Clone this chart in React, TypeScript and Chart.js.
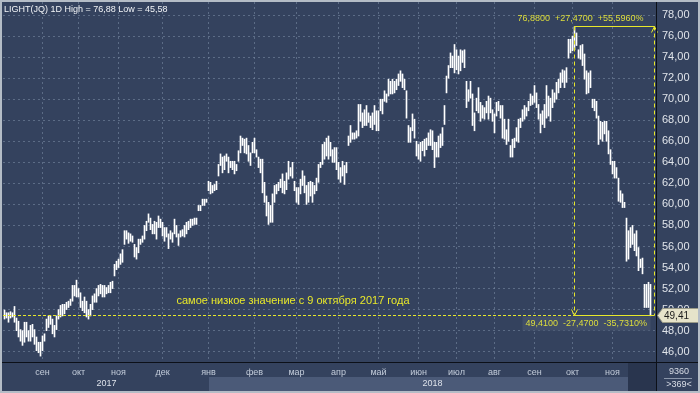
import React, { useEffect, useRef } from 'react';
import { Chart, registerables } from 'chart.js';

Chart.register(...registerables);

// Daily bar highs / lows (LIGHT, Aug 2017 – Nov 2018)
const highs: number[] = [
  // Aug – Nov 2017
  49.96,49.7,49.7,49.8,49.7, 50.3,49.2,48.9,48.1,48.0, 48.8,48.8,48.0,48.5,48.6, 48.1,47.4,46.9,46.9,47.5,
  47.7,49.1,49.4,49.4,49.1, 48.5,49.4,50.0,50.4,50.5, 50.5,50.7,50.8,51.0,52.3, 52.3,52.8,52.0,51.6,50.8,
  51.2,50.8,50.0,50.5,51.3, 51.5,52.0,52.3,52.4,52.3, 52.3,52.1,52.3,52.6,52.7, 54.3,54.6,54.8,55.3,55.7,
  57.5,57.5,57.3,
  // Nov 2017 – Feb 2018
  57.2,57.0,56.2,55.9, 56.7,56.7,57.0,58.0,58.4, 59.1,58.7,58.1,58.4,58.3, 58.9,58.6,58.3,57.8,57.8,57.2,
  57.5,57.3,58.6,58.0, 57.2,57.5,57.6,58.0,58.3, 58.4,58.6,58.6,58.7,58.7, 59.9,59.9,60.5,60.5,60.5,
  62.2,62.1,61.8,61.9,62.2, 63.8,64.8,64.5,64.6,64.8, 64.5,64.1,64.1,64.1,63.8, 65.1,66.5,66.3,66.2,66.3,
  65.6,64.9,65.9,66.3,65.2, 64.5,
  // Feb – May 2018
  64.3,64.3,62.1,60.8,60.2, 59.9,61.0,61.8,61.9,62.1, 62.4,62.9,62.2,63.0,64.1, 63.5,64.0,62.2,61.6,61.6,
  62.4,63.2,62.7,61.8,62.1, 62.2,62.1,61.8,62.5, 63.8,64.0,65.7,65.9,66.3, 66.5,65.9,65.2,65.4,65.4,
  64.0,63.5,64.1,63.7,64.0, 66.5,67.5,66.8,66.8,67.0, 69.5,69.5,68.7,69.0,69.4, 68.7,68.4,68.7,69.4,68.9,
  68.9,70.0,70.0,70.8,70.5,
  // May – Sep 2018
  71.9,71.7,71.9,71.7, 71.9,72.4,72.7,72.4,71.9, 70.8,67.5,67.3,68.6,68.1, 66.0,65.7,65.9,66.0,66.2,
  66.3,66.8,67.1,67.0,65.9, 65.9,66.5,66.7,67.3,69.4, 72.2,73.2,74.4,74.1,75.2, 74.7,74.1,74.7,74.6,74.7,
  71.7,70.9,71.7,70.5,68.7, 70.1,71.1,69.7,69.4,69.2, 69.8,70.3,70.1,69.0,68.6, 69.7,69.8,69.4,69.4,68.1,
  67.1,68.1,65.6,66.2,66.3, 67.3,
  // Sep – Nov 2018
  68.1,68.2,69.0,69.4,69.2, 69.8,70.5,70.3,71.3,70.6, 69.5,68.6,68.9,69.5,71.3, 70.3,70.1,70.9,70.6,71.6,
  71.9,72.5,72.8,72.7,73.0, 75.7,75.7,76.0,76.88,76.3, 74.7,75.1,75.2,74.3,72.7, 72.5,72.7,70.0,70.0,69.8,
  68.4,67.9,67.8,67.9,67.9, 67.0,65.2,64.1,64.1,63.5, 62.5,61.3,61.0,60.2,58.7, 57.5,57.8,58.0,57.2,57.5,
  55.9,54.8,54.9,52.4,52.4, 52.6,52.4,
];

const lows: number[] = [
  // Aug – Nov 2017
  49.1,49.2,48.8,49.2,49.3, 48.8,48.0,47.4,47.0,46.6, 46.9,47.4,47.0,47.0,47.4, 46.7,46.1,45.9,45.58,46.1,
  47.0,48.0,48.3,48.6,47.7, 47.4,48.1,49.1,49.3,49.4, 49.6,50.0,50.2,50.4,50.8, 51.3,51.2,51.2,50.2,49.9,
  49.7,49.3,49.1,49.4,50.0, 50.7,50.7,51.3,51.5,51.2, 51.2,51.5,51.6,51.6,52.0, 53.2,53.8,54.0,54.3,54.5,
  56.2,56.7,56.3,
  // Nov 2017 – Feb 2018
  56.5,56.4,55.0,54.8, 55.4,56.2,56.4,56.7,57.5, 58.3,57.6,57.2,57.2,56.7, 57.8,57.8,57.0,56.5,56.9,55.8,
  56.7,56.4,57.2,56.9, 56.1,56.9,57.0,56.9,57.2, 57.6,57.8,58.0,58.1,58.1, 59.4,59.4,59.9,59.9,60.2,
  61.3,61.0,61.1,61.3,61.4, 62.7,63.7,63.0,63.3,64.1, 63.0,63.5,63.3,62.9,63.2, 64.1,64.9,65.6,64.9,64.8,
  64.1,63.7,64.9,64.9,64.5, 63.5,
  // Feb – May 2018
  63.0,61.1,60.2,58.9,58.1, 58.3,58.3,60.2,61.0,61.3, 61.6,61.1,61.0,61.4,62.4, 62.7,62.5,61.3,60.2,60.0,
  61.0,61.8,61.1,60.0,60.2, 60.8,60.2,61.0,61.3, 62.1,63.5,63.8,64.3,64.6, 64.3,64.6,64.0,64.0,63.3,
  62.4,62.1,62.7,61.9,63.0, 65.6,65.9,66.2,66.2,66.3, 66.5,67.9,67.3,67.5,67.5, 67.8,67.3,67.1,67.6,67.0,
  67.0,68.9,68.6,69.8,69.7,
  // May – Sep 2018
  70.3,70.5,70.5,70.6, 70.9,71.3,71.7,71.1,70.9, 68.2,65.9,65.9,67.0,66.3, 64.6,64.3,64.1,65.1,64.6,
  65.2,65.6,65.6,65.2,63.5, 64.5,64.5,65.4,65.6,67.6, 70.6,72.0,73.0,73.0,72.5, 72.8,72.4,72.7,73.5,73.0,
  69.2,69.8,70.1,67.5,67.0, 68.9,68.7,67.9,68.2,68.1, 68.7,68.1,68.7,67.9,66.8, 68.4,68.9,68.2,66.3,66.2,
  65.7,66.0,64.5,64.5,65.4, 66.0,
  // Sep – Nov 2018
  65.9,67.3,67.9,68.1,68.4, 68.9,69.4,69.5,69.7,69.2, 68.1,66.8,67.6,67.3,68.2, 68.4,67.9,69.2,69.7,70.0,
  70.6,71.1,71.6,71.1,71.6, 73.9,74.4,74.6,74.7,75.1, 73.9,73.8,73.2,71.9,70.5, 70.6,71.1,69.2,68.9,68.2,
  65.7,66.2,66.0,66.7,66.0, 64.8,63.8,62.9,62.5,62.5, 60.3,60.2,59.7,59.7,54.6, 54.8,55.9,56.2,55.6,55.1,
  53.7,54.0,53.4,50.2,50.2, 50.2,49.41,
];

// Month ticks (bar index of each month boundary) and labels
const monthIdx: number[] = [19, 37, 57, 79, 102, 125, 146, 167, 187, 207, 226, 245, 265, 284, 304];
const monthLabels: string[] = ['сен','окт','ноя','дек','янв','фев','мар','апр','май','июн','июл','авг','сен','окт','ноя'];
const yearLabels: string[] = ['2017', '2018'];
const yearStartIdx: number[] = [-0.75, 102];
const yearLabelIdx: number[] = [51, 214];
const yTicks: number[] = [46,48,50,52,54,56,58,60,62,64,66,68,70,72,74,76,78];

const titleText = 'LIGHT(JQ) 1D High = 76,88 Low = 45,58';
const peakIdx = 285;
const peakPrice = 76.88;
const lastPrice = 49.41;
const measureEndIdx = 324.75;
const futureIdx = 311.75;
const topMeasureText = '76,8800  +27,4700  +55,5960%';
const bottomMeasureText = '49,4100  -27,4700  -35,7310%';
const annotText = 'самое низкое значение с 9 октября 2017 года';
const annotIdx = 86;
const annotPrice = 50.85;
const volText = '9360';
const countText = '>369<';

const BG = '#34425e';
const YEL = '#e8e82a';
const FONT = '"Liberation Sans", Arial, sans-serif';

const fmt = (v: number, d: number) => v.toFixed(d).replace('.', ',');

const decoPlugin = {
  id: 'deco',
  beforeDraw(chart: any) {
    const { ctx, chartArea: ca, scales } = chart;
    const x = scales.x;
    const W = chart.width, H = chart.height;
    ctx.save();
    ctx.fillStyle = BG;
    ctx.fillRect(0, 0, W, H);
    const yr0 = ca.bottom + 15;
    const yr1 = H - 2;
    const x18 = Math.round(x.getPixelForValue(yearStartIdx[1]));
    const xf = Math.round(x.getPixelForValue(futureIdx));
    ctx.fillStyle = '#4b5a78';
    ctx.fillRect(x18, yr0, xf - x18, yr1 - yr0);
    ctx.fillStyle = '#29354e';
    ctx.fillRect(xf, ca.bottom, ca.right - xf, yr1 - ca.bottom);
    ctx.restore();
  },
  afterDraw(chart: any) {
    const { ctx, chartArea: ca, scales } = chart;
    const x = scales.x, y = scales.y;
    const W = chart.width, H = chart.height;
    const snap = (v: number) => Math.round(v - 0.5) + 0.5;
    const line = (x1: number, y1: number, x2: number, y2: number) => {
      ctx.beginPath(); ctx.moveTo(x1, y1); ctx.lineTo(x2, y2); ctx.stroke();
    };
    ctx.save();

    // year labels
    ctx.font = `9px ${FONT}`;
    ctx.fillStyle = '#dde2ea';
    ctx.textAlign = 'center';
    ctx.textBaseline = 'middle';
    yearLabels.forEach((t, i) => ctx.fillText(t, x.getPixelForValue(yearLabelIdx[i]), ca.bottom + 22));

    // measurement lines
    const yl = snap(y.getPixelForValue(lastPrice));
    const yh = snap(y.getPixelForValue(peakPrice));
    const xp = snap(x.getPixelForValue(peakIdx));
    const xe = snap(x.getPixelForValue(measureEndIdx));
    ctx.strokeStyle = YEL;
    ctx.lineWidth = 1;
    ctx.setLineDash([3, 2]);
    line(ca.left, yl, xp, yl);
    ctx.setLineDash([4, 3]);
    line(xp, yh, xp, yl);
    line(xe, yh, xe, yl);
    ctx.setLineDash([]);
    line(xp, yh, xe, yh);
    line(xp, yl, xe, yl);
    ctx.beginPath(); ctx.moveTo(xp - 3, yl - 6); ctx.lineTo(xp, yl); ctx.lineTo(xp + 3, yl - 6); ctx.stroke();
    ctx.beginPath(); ctx.moveTo(xe - 3, yh + 6); ctx.lineTo(xe, yh); ctx.lineTo(xe + 3, yh + 6); ctx.stroke();

    ctx.font = `9px ${FONT}`;
    ctx.textAlign = 'left';
    ctx.textBaseline = 'middle';
    ctx.fillStyle = '#dede3c';
    ctx.fillText(topMeasureText, xp - 57, yh - 8);
    ctx.fillStyle = '#414e68';
    ctx.fillRect(xp - 52, yl + 1, xe - xp + 48, 14);
    ctx.fillStyle = '#dede3c';
    ctx.fillText(bottomMeasureText, xp - 49, yl + 8.5);

    ctx.font = `11px ${FONT}`;
    ctx.fillStyle = '#e8e82a';
    ctx.fillText(annotText, x.getPixelForValue(annotIdx), y.getPixelForValue(annotPrice));

    // separators
    ctx.strokeStyle = '#0c1018';
    line(ca.right + 0.5, 0, ca.right + 0.5, H);
    line(0, ca.bottom + 0.5, W, ca.bottom + 0.5);

    // price tag
    const ty = Math.round(y.getPixelForValue(lastPrice)) - 0.5;
    ctx.fillStyle = '#e6e3ca';
    ctx.strokeStyle = '#9a9a88';
    ctx.beginPath();
    ctx.moveTo(ca.right + 1.5, ty);
    ctx.lineTo(ca.right + 6.5, ty - 7);
    ctx.lineTo(W - 1.5, ty - 7);
    ctx.lineTo(W - 1.5, ty + 7);
    ctx.lineTo(ca.right + 6.5, ty + 7);
    ctx.closePath();
    ctx.fill();
    ctx.stroke();
    ctx.fillStyle = '#1a1a1a';
    ctx.font = `10px ${FONT}`;
    ctx.fillText(fmt(lastPrice, 2), ca.right + 8, ty + 0.5);

    // bottom right info
    ctx.font = `9px ${FONT}`;
    ctx.fillStyle = '#d8dde6';
    ctx.textAlign = 'center';
    ctx.fillText(volText, ca.right + 23, ca.bottom + 10);
    ctx.fillText(countText, ca.right + 23, ca.bottom + 23);
    ctx.strokeStyle = '#8a96aa';
    line(ca.right + 8, ca.bottom + 16.5, W - 8, ca.bottom + 16.5);

    // title
    ctx.textAlign = 'left';
    ctx.fillStyle = '#f2f4f7';
    ctx.font = `9px ${FONT}`;
    ctx.fillText(titleText, 4, 10);

    // frame
    ctx.strokeStyle = '#b4bcc6';
    ctx.lineWidth = 2;
    ctx.strokeRect(1, 1, W - 2, H - 2);
    ctx.restore();
  },
};

export default function App() {
  const ref = useRef<HTMLCanvasElement>(null);
  useEffect(() => {
    if (!ref.current) return;
    const data = highs.map((h, i) => ({ x: i, y: [lows[i], h] }));
    const chart = new Chart(ref.current, {
      type: 'bar',
      data: {
        datasets: [{
          data: data as any,
          backgroundColor: '#ffffff',
          borderWidth: 0,
          barThickness: 1,
          grouped: false,
        } as any],
      },
      options: {
        responsive: false,
        animation: false,
        devicePixelRatio: 1,
        layout: { padding: { left: 3, top: 2, right: 0, bottom: 2 } },
        plugins: { legend: { display: false }, tooltip: { enabled: false } },
        scales: {
          x: {
            type: 'linear',
            min: -0.75,
            max: 325.75,
            offset: false,
            afterFit: (s: any) => { s.height = 29; s.paddingLeft = 0; s.paddingRight = 0; },
            afterBuildTicks: (s: any) => { s.ticks = monthIdx.map((v) => ({ value: v })); },
            grid: { color: 'rgba(120,136,162,0.6)', drawTicks: false, offset: false },
            border: { display: false, dash: [2, 3] },
            ticks: {
              autoSkip: false,
              maxRotation: 0,
              padding: 5,
              color: '#c3ccda',
              font: { family: FONT, size: 9 },
              callback: (_v: any, i: number) => monthLabels[i],
            },
          },
          y: {
            position: 'right',
            min: 45.02,
            max: 79.24,
            afterFit: (s: any) => { s.width = 44; s.paddingTop = 0; s.paddingBottom = 0; },
            afterBuildTicks: (s: any) => { s.ticks = yTicks.map((v) => ({ value: v })); },
            grid: { color: 'rgba(120,136,162,0.6)', drawTicks: false },
            border: { display: false, dash: [2, 3] },
            ticks: {
              padding: 6,
              color: '#e0e4ea',
              font: { family: FONT, size: 11 },
              callback: (v: any) => fmt(Number(v), 2),
            },
          },
        },
      },
      plugins: [decoPlugin],
    });
    return () => chart.destroy();
  }, []);
  return (
    <div style={{ position: 'fixed', left: 0, top: 0, width: 700, height: 393 }}>
      <canvas ref={ref} width={700} height={393} style={{ display: 'block' }} />
    </div>
  );
}
